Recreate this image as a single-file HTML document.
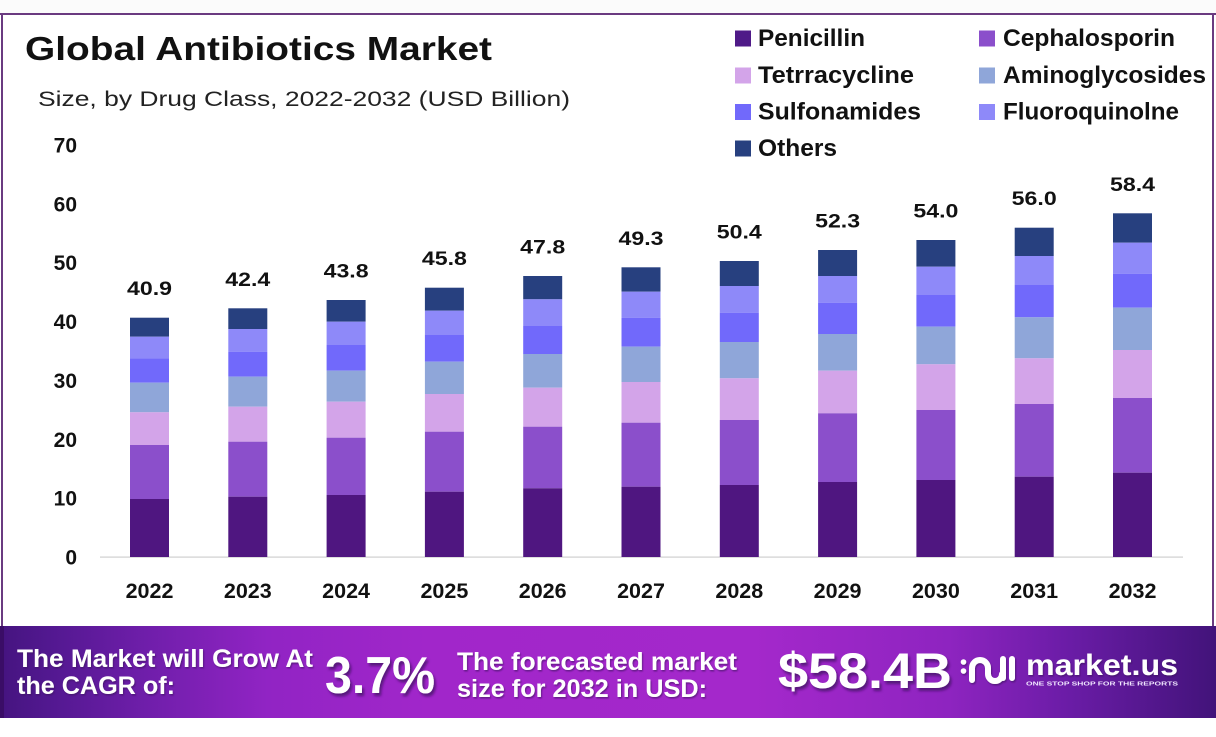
<!DOCTYPE html>
<html>
<head>
<meta charset="utf-8">
<style>
  html, body { margin:0; padding:0; background:#ffffff; }
  body { width:1216px; height:737px; overflow:hidden; }
  svg { display:block; }
  text { font-family: "Liberation Sans", Arial, sans-serif; }
</style>
</head>
<body>
<svg width="1216" height="737" viewBox="0 0 1216 737" xmlns="http://www.w3.org/2000/svg">
  <defs>
    <linearGradient id="ban" x1="0" y1="0" x2="1" y2="0">
      <stop offset="0" stop-color="#45147f"/>
      <stop offset="0.04" stop-color="#521890"/>
      <stop offset="0.12" stop-color="#6f1eaa"/>
      <stop offset="0.22" stop-color="#9124c4"/>
      <stop offset="0.35" stop-color="#a126ca"/>
      <stop offset="0.62" stop-color="#a428cb"/>
      <stop offset="0.78" stop-color="#8e24c0"/>
      <stop offset="0.88" stop-color="#6a1ca6"/>
      <stop offset="1" stop-color="#42137a"/>
    </linearGradient>
    <filter id="sh" x="-10%" y="-20%" width="130%" height="160%">
      <feDropShadow dx="2" dy="3" stdDeviation="1.2" flood-color="#3a0a5e" flood-opacity="0.7"/>
    </filter>
    <filter id="sh2" x="-5%" y="-20%" width="115%" height="160%">
      <feDropShadow dx="1" dy="1.5" stdDeviation="0.8" flood-color="#3a0a5e" flood-opacity="0.6"/>
    </filter>
  </defs>

  <!-- frame -->
  <rect x="0" y="0" width="1216" height="13" fill="#fbfbfb"/>
  <rect x="0" y="13" width="1216" height="2" fill="#6a3a80"/>
  <rect x="1" y="13" width="2" height="613" fill="#6a3a80"/>
  <rect x="1212" y="13" width="2" height="613" fill="#6a3a80"/>

  <!-- title -->
  <text x="25" y="60" font-size="33" font-weight="bold" fill="#111" textLength="467" lengthAdjust="spacingAndGlyphs">Global Antibiotics Market</text>
  <text x="38" y="106" font-size="21" fill="#222" textLength="532" lengthAdjust="spacingAndGlyphs">Size, by Drug Class, 2022-2032 (USD Billion)</text>

  <!-- legend -->
  <g font-size="24" font-weight="bold" fill="#111">
    <rect x="735" y="30.5" width="16" height="16" fill="#4f1a88"/>
    <text x="758" y="46" textLength="107" lengthAdjust="spacingAndGlyphs">Penicillin</text>
    <rect x="979" y="30.5" width="16" height="16" fill="#8b4fcb"/>
    <text x="1003" y="46" textLength="172" lengthAdjust="spacingAndGlyphs">Cephalosporin</text>

    <rect x="735" y="67.5" width="16" height="16" fill="#d3a4e9"/>
    <text x="758" y="83" textLength="156" lengthAdjust="spacingAndGlyphs">Tetrracycline</text>
    <rect x="979" y="67.5" width="16" height="16" fill="#8fa6d9"/>
    <text x="1003" y="83" textLength="203" lengthAdjust="spacingAndGlyphs">Aminoglycosides</text>

    <rect x="735" y="104" width="16" height="16" fill="#7169fb"/>
    <text x="758" y="119.5" textLength="163" lengthAdjust="spacingAndGlyphs">Sulfonamides</text>
    <rect x="979" y="104" width="16" height="16" fill="#8e89f9"/>
    <text x="1003" y="119.5" textLength="176" lengthAdjust="spacingAndGlyphs">Fluoroquinolne</text>

    <rect x="735" y="140.5" width="16" height="16" fill="#27407f"/>
    <text x="758" y="156" textLength="79" lengthAdjust="spacingAndGlyphs">Others</text>
  </g>

  <!-- y axis labels -->
  <g font-size="21" font-weight="bold" fill="#111" text-anchor="end">
    <text x="77" y="564.5">0</text>
    <text x="77" y="505.6">10</text>
    <text x="77" y="446.8">20</text>
    <text x="77" y="387.9">30</text>
    <text x="77" y="329.0">40</text>
    <text x="77" y="270.2">50</text>
    <text x="77" y="211.3">60</text>
    <text x="77" y="152.5">70</text>
  </g>

  <!-- baseline -->
  <rect x="100" y="556.5" width="1083" height="1.2" fill="#cfcfcf"/>

  <!-- bars -->
  <g id="bars"></g>

  <!-- x labels -->
  <g font-size="21.5" font-weight="bold" fill="#111" text-anchor="middle" id="xl"></g>

  <!-- value labels -->
  <g font-size="19" font-weight="bold" fill="#111" text-anchor="middle" id="vl"></g>

  <!-- banner -->
  <rect x="0" y="626" width="1216" height="92" fill="url(#ban)"/>
  <rect x="0" y="626" width="4" height="92" fill="#3a0d66"/>
  <g fill="#ffffff" font-weight="bold">
    <g filter="url(#sh2)">
      <text x="17" y="667" font-size="25" textLength="296" lengthAdjust="spacingAndGlyphs">The Market will Grow At</text>
      <text x="17" y="694" font-size="25" textLength="158" lengthAdjust="spacingAndGlyphs">the CAGR of:</text>
      <text x="457" y="670" font-size="25" textLength="280" lengthAdjust="spacingAndGlyphs">The forecasted market</text>
      <text x="457" y="697" font-size="25" textLength="250" lengthAdjust="spacingAndGlyphs">size for 2032 in USD:</text>
    </g>
    <g filter="url(#sh)">
      <text x="325" y="693" font-size="52" textLength="110" lengthAdjust="spacingAndGlyphs">3.7%</text>
      <text x="778" y="688" font-size="50" textLength="174" lengthAdjust="spacingAndGlyphs">$58.4B</text>
    </g>
    <!-- logo icon -->
    <g filter="url(#sh2)">
      <circle cx="963.5" cy="662" r="2.8" fill="#fff"/>
      <circle cx="963.5" cy="671" r="2.8" fill="#fff"/>
      <path d="M972,680 V668 A8,8 0 0 1 988,668 V674 A7,7 0 0 0 1002,674" fill="none" stroke="#fff" stroke-width="6" stroke-linecap="round"/>
      <path d="M1003,659 V678 M1012,659 V678" fill="none" stroke="#fff" stroke-width="6" stroke-linecap="round"/>
      <text x="1026" y="675" font-size="30" textLength="152" lengthAdjust="spacingAndGlyphs">market.us</text>
    </g>
    <text x="1026" y="685.5" font-size="5.5" textLength="152" lengthAdjust="spacingAndGlyphs" fill="#f0e6ff">ONE STOP SHOP FOR THE REPORTS</text>
  </g>

  <script>
  (function(){
    var NS = "http://www.w3.org/2000/svg";
    var cols = ["#27407f","#8e89f9","#7169fb","#8fa6d9","#d3a4e9","#8b4fcb","#4f1680"];
    var data = [
      [317.7,336.7,358.3,382.7,412.3,445,499],
      [308.3,329,351.7,376.7,406.7,441.7,496.7],
      [300,321.7,345,370.7,401.7,437.7,495],
      [287.7,310.7,335,361.7,394,431.7,491.7],
      [276,299.3,326,354,387.7,426.7,488.3],
      [267.3,291.7,317.7,346.7,382,422.7,486.7],
      [261,286,312.7,342,378.3,420,485],
      [250,276,302.7,334,370.7,413.3,482],
      [240,266.7,295,326.7,364.3,410,480],
      [227.7,256,285,317.3,358.3,404,476.7],
      [213.3,242.7,273.7,307.7,350,398,472.7]
    ];
    var vals = ["40.9","42.4","43.8","45.8","47.8","49.3","50.4","52.3","54.0","56.0","58.4"];
    var bars = document.getElementById("bars");
    var xl = document.getElementById("xl");
    var vl = document.getElementById("vl");
    for (var i=0;i<11;i++){
      var x = 130 + i*98.3;
      var b = data[i];
      var bounds = b.concat([557]);
      for (var k=0;k<7;k++){
        var r = document.createElementNS(NS,"rect");
        r.setAttribute("x", x.toFixed(1));
        r.setAttribute("y", bounds[k]);
        r.setAttribute("width", 39);
        r.setAttribute("height", (bounds[k+1]-bounds[k]).toFixed(1));
        r.setAttribute("fill", cols[k]);
        bars.appendChild(r);
      }
      var cx = x + 19.5;
      var t = document.createElementNS(NS,"text");
      t.setAttribute("x", cx.toFixed(1));
      t.setAttribute("y", 598);
      t.textContent = String(2022+i);
      xl.appendChild(t);
      var v = document.createElementNS(NS,"text");
      v.setAttribute("x", cx.toFixed(1));
      v.setAttribute("y", (b[0]-22.5).toFixed(1));
      v.setAttribute("textLength", 45);
      v.setAttribute("lengthAdjust", "spacingAndGlyphs");
      v.textContent = vals[i];
      vl.appendChild(v);
    }
  })();
  </script>
</svg>
</body>
</html>
